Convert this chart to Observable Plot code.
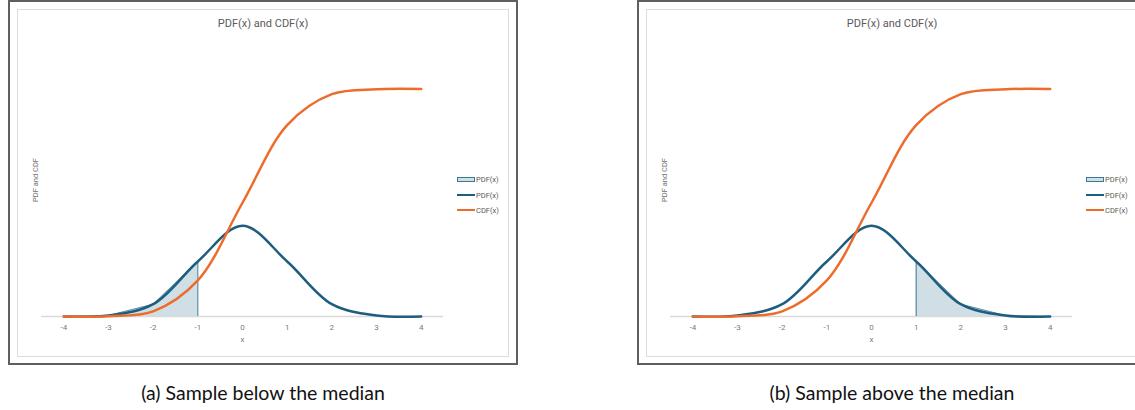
<!DOCTYPE html>
<html>
<head>
<meta charset="utf-8">
<script src="https://cdn.jsdelivr.net/npm/d3@7"></script>
<script src="https://cdn.jsdelivr.net/npm/@observablehq/plot@0.6"></script>
<style>
  html, body { margin: 0; padding: 0; background: #fff; }
  body { width: 1135px; height: 410px; overflow: hidden; position: relative; font-family: Roboto, "Liberation Sans", sans-serif; }
  .abs { position: absolute; }
  .outer { box-sizing: border-box; border: 2px solid #5f5f5f; background: #fff; }
  .inner { box-sizing: border-box; border: 1px solid #dcdcdc; }
  .title { font-size: 11px; color: #595959; text-align: center; white-space: nowrap; }
  .ylabel { font-size: 7.5px; color: #6f6f6f; white-space: nowrap; transform: translate(-50%, -50%) rotate(-90deg); }
  .legend-row { display: flex; align-items: center; font-size: 7.5px; color: #595959; white-space: nowrap; }
  .caption { font-family: Lato, "Open Sans", sans-serif; font-size: 19.5px; color: #111; text-align: center; white-space: nowrap; }
</style>
</head>
<body>
<script>
// ---- data ----
const xCategories = [-4, -3, -2, -1, 0, 1, 2, 3, 4];
const pdfValues   = [0.0001, 0.0044, 0.054, 0.242, 0.399, 0.242, 0.054, 0.0044, 0.0001];
const cdfValues   = [0.00003, 0.0013, 0.0228, 0.1587, 0.5, 0.8413, 0.9772, 0.9987, 1.0];
const chartTitle = "PDF(x) and CDF(x)";
const yAxisLabel = "PDF and CDF";
const xAxisLabel = "x";
const legendLabels = ["PDF(x)", "PDF(x)", "CDF(x)"];
const panelCaptions = ["(a) Sample below the median", "(b) Sample above the median"];
const shadeRanges = [[-4, -1], [1, 4]];   // shaded x-range per panel
const shadeEdges = [-1, 1];               // vertical edge of the shaded area per panel

const colors = { pdf: "#1c5d80", cdf: "#ee6c2b", areaFill: "#d0dee5", areaStroke: "#3d7891", base: "#d9d9d9" };

const data = xCategories.map((x, i) => ({ x, pdf: pdfValues[i], cdf: cdfValues[i] }));

function el(cls, styles, text) {
  const d = document.createElement("div");
  d.className = cls;
  Object.assign(d.style, styles);
  if (text != null) d.textContent = text;
  document.body.appendChild(d);
  return d;
}

function makePanel(p, dx) {
  el("abs outer", { left: (8 + dx) + "px", top: "0px", width: "510px", height: "365px" });
  el("abs inner", { left: (17 + dx) + "px", top: "9px", width: "492px", height: "348px" });
  el("abs title", { left: (17 + dx) + "px", top: "17px", width: "492px" }, chartTitle);
  el("abs ylabel", { left: (35 + dx) + "px", top: "180px" }, yAxisLabel);

  const [lo, hi] = shadeRanges[p];
  const shade = data.filter(d => d.x >= lo && d.x <= hi);
  const edge = data.filter(d => d.x === shadeEdges[p]);

  const chart = Plot.plot({
    width: 440,
    height: 290,
    marginLeft: 24,
    marginRight: 14,
    marginTop: 28.5,
    marginBottom: 34,
    style: { fontFamily: "Roboto, 'Liberation Sans', sans-serif", fontSize: "8px", color: "#7a7a7a", background: "transparent", overflow: "visible" },
    x: { domain: [-4.5, 4.5], ticks: xCategories, tickFormat: d => String(d), tickSize: 0, tickPadding: 8,
         label: xAxisLabel, labelAnchor: "center", labelArrow: "none", labelOffset: 25 },
    y: { domain: [0, 1], axis: null },
    marks: [
      Plot.ruleY([0], { stroke: colors.base, strokeWidth: 1.5 }),
      Plot.areaY(shade, { x: "x", y: "pdf", fill: colors.areaFill }),
      Plot.lineY(shade, { x: "x", y: "pdf", stroke: colors.areaStroke, strokeWidth: 0.8 }),
      Plot.ruleX(edge, { x: "x", y1: 0, y2: "pdf", stroke: colors.areaStroke, strokeWidth: 1 }),
      Plot.line(data, { x: "x", y: "pdf", curve: "catmull-rom", stroke: colors.pdf, strokeWidth: 2.5 }),
      Plot.line(data, { x: "x", y: "cdf", curve: "catmull-rom", stroke: colors.cdf, strokeWidth: 2.5 })
    ]
  });
  chart.style.position = "absolute";
  chart.style.left = (17 + dx) + "px";
  chart.style.top = "60px";
  document.body.appendChild(chart);

  // legend
  const legendY = [179, 195, 210];
  legendLabels.forEach((lab, i) => {
    const row = el("abs legend-row", { left: (457 + dx) + "px", top: (legendY[i] - 5) + "px", height: "10px" });
    const sw = document.createElement("span");
    sw.style.display = "inline-block";
    sw.style.width = "18px";
    sw.style.marginRight = "1px";
    sw.style.boxSizing = "border-box";
    if (i === 0) {
      sw.style.height = "5px";
      sw.style.background = colors.areaFill;
      sw.style.border = "1px solid " + colors.areaStroke;
    } else {
      sw.style.height = "2.5px";
      sw.style.background = i === 1 ? colors.pdf : colors.cdf;
    }
    row.appendChild(sw);
    const t = document.createElement("span");
    t.textContent = lab;
    row.appendChild(t);
  });

  el("abs caption", { left: (8 + dx) + "px", top: "381px", width: "510px" }, panelCaptions[p]);
}

makePanel(0, 0);
makePanel(1, 629);
</script>
</body>
</html>
